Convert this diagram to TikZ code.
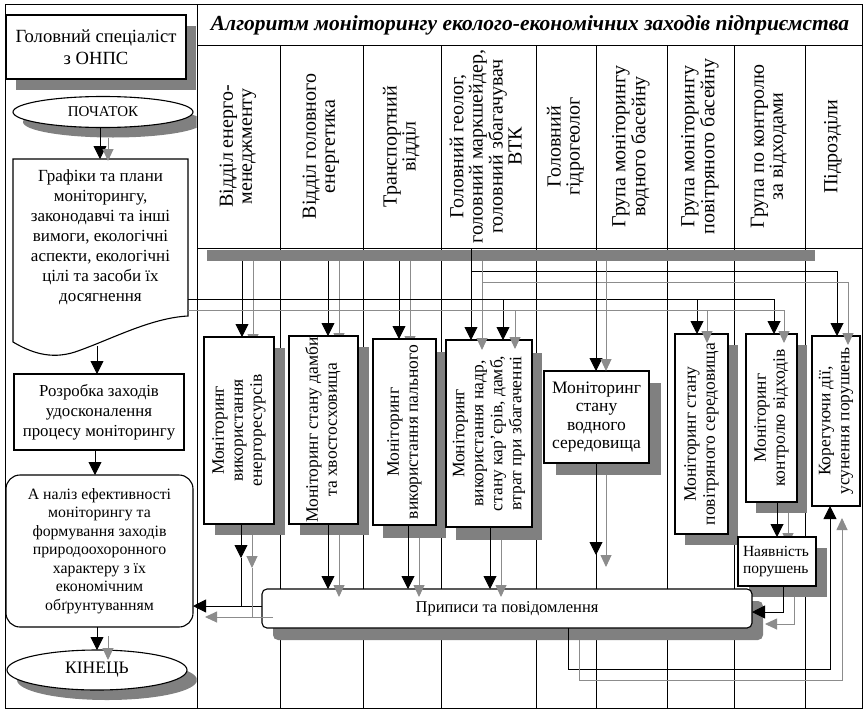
\documentclass[tikz,border=0pt]{standalone}
\usepackage{fontspec}
\setmainfont{Liberation Serif}
\usepackage{graphicx}
\usetikzlibrary{arrows.meta,shapes.geometric,shadows,calc}
\pgfdeclarelayer{under}
\pgfsetlayers{under,main}
\definecolor{shgray}{RGB}{128,128,128}
\definecolor{lngray}{RGB}{140,140,140}
% text set bottom-to-top inside an upright box
\newcommand{\vlines}[1]{\rotatebox{90}{\begin{tabular}{@{}c@{}}#1\end{tabular}}}

\begin{document}
\begin{tikzpicture}[x=1pt,y=-1pt,
  font=\fontsize{17.5}{19}\selectfont,
  every node/.style={inner sep=0pt, outer sep=0pt},
  rule/.style={draw, line width=1pt},
  box/.style={draw, line width=1.1pt, fill=white},
  hdr/.style={draw, line width=1pt, minimum height=203, font=\fontsize{20}{19}\selectfont},
  shd/.style 2 args={drop shadow={shadow xshift=#1, shadow yshift=-#2, opacity=1, fill=shgray}},
  blk/.style={draw=black, line width=0.9pt},
  gry/.style={draw=lngray, line width=0.9pt},
  tipb/.style={-{Triangle[length=13pt,width=13pt]}},
  tipg/.style={-{Triangle[length=12pt,width=11pt]}}
]
\useasboundingbox (0,0) rectangle (866,712);
\begin{pgfonlayer}{under}
  \fill[white] (0,0) rectangle (866,712);
\end{pgfonlayer}

% outer frame and title
\node[rule, minimum width=857, minimum height=704] (frame) at (433.5,356) {};
\node[font=\fontsize{21.5}{24}\selectfont\bfseries\itshape] (title) at (530,25)
  {Алгоритм моніторингу еколого-економічних заходів підприємства};

% column headers
\node[hdr, minimum width=83] (h1) at (238.5,146.5) {\vlines{Відділ енерго-\\менеджменту}};
\node[hdr, minimum width=83] (h2) at (321.5,146.5) {\vlines{Відділ головного\\енергетика}};
\node[hdr, minimum width=78] (h3) at (402,146.5) {\vlines{Транспортний\\відділ}};
\node[hdr, minimum width=95] (h4) at (488.5,146.5) {\vlines{Головний геолог,\\головний маркшейдер,\\головний збагачувач\\ВТК}};
\node[hdr, minimum width=60] (h5) at (566,146.5) {\vlines{Головний\\гідрогеолог}};
\node[hdr, minimum width=71] (h6) at (631.5,146.5) {\vlines{Група моніторингу\\водного басейну}};
\node[hdr, minimum width=67] (h7) at (700.5,146.5) {\vlines{Група моніторингу\\повітряного басейну}};
\node[hdr, minimum width=71] (h8) at (769.5,146.5) {\vlines{Група по контролю\\за відходами}};
\node[hdr, minimum width=57] (h9) at (833.5,146.5) {\vlines{Підрозділи}};

% left column separator
\draw[rule] (frame.north -| h1.west) -- (frame.south -| h1.west);

% column lines running down the body
\begin{pgfonlayer}{under}
  \foreach \h in {h2,h3,h4,h5,h6,h7,h8,h9}
    \draw[rule] (\h.south west) -- (\h.south west |- frame.south);
\end{pgfonlayer}

% shadow strip under the header row
\node[fill=shgray, minimum width=608, minimum height=11] (hbar) at (511,255.5) {};

% left column: process flow
\begin{scope}
  \clip (5,4) rectangle (196.5,708);
  \node[box, shd={10pt}{11pt}, minimum width=180, minimum height=64, align=center,
        font=\fontsize{18.6}{22}\selectfont] (spec) at (96,47) {Головний спеціаліст\\з ОНПС};
  \node[box, ellipse, shd={10pt}{10pt}, minimum width=180, minimum height=31,
        font=\fontsize{15}{17}\selectfont] (start) at (103,112) {ПОЧАТОК};
  \node[align=center, minimum width=175, minimum height=157, font=\fontsize{17}{20}\selectfont] (G1) at (100.5,237.5)
    {Графіки та плани\\моніторингу,\\законодавчі та інші\\вимоги, екологічні\\аспекти, екологічні\\цілі та засоби їх\\досягнення};
  \draw[line width=1.1pt] (G1.north west) -- (G1.north east) -- (G1.south east)
    .. controls ($(G1.south east)+(-38,2)$) and ($(G1.south east)+(-78,24)$) .. ($(G1.south west)+(62,36)$)
    .. controls ($(G1.south west)+(37,44)$) and ($(G1.south west)+(17,36)$) .. ($(G1.south west)+(0,26)$) -- cycle;
  \node[box, minimum width=170, minimum height=76, align=center, font=\fontsize{16.8}{20}\selectfont] (dev) at (99,412)
    {Розробка заходів\\удосконалення\\процесу моніторингу};
  \node[box, rounded corners=14pt, minimum width=187, minimum height=152, align=center,
        font=\fontsize{15.8}{18.5}\selectfont] (anl) at (99.5,551)
    {А наліз ефективності\\моніторингу та\\формування заходів\\природоохоронного\\характеру з їх\\економічним\\обґрунтуванням};
  \node[box, ellipse, shd={10pt}{10pt}, minimum width=180, minimum height=40] (end) at (97,670) {КІНЕЦЬ};
\end{scope}

% monitoring blocks
\node[box, shd={11pt}{11pt}, minimum width=70, minimum height=187] (A) at (239,430.5)
  {\vlines{Моніторинг\\використання\\енергоресурсів}};
\node[box, shd={11pt}{11pt}, minimum width=69, minimum height=188] (B) at (323.5,430)
  {\vlines{Моніторинг стану дамби\\та хвостосховища}};
\node[box, shd={10pt}{13pt}, minimum width=63, minimum height=186] (C) at (404.5,432)
  {\vlines{Моніторинг\\використання пального}};
\node[box, shd={10pt}{13pt}, minimum width=86, minimum height=187] (D) at (489,433.5)
  {\vlines{Моніторинг\\використання надр,\\стану кар’єрів, дамб,\\втрат при збагаченні}};
\node[box, shd={12pt}{12pt}, minimum width=105, minimum height=92, align=center,
      font=\fontsize{17.5}{18.5}\selectfont] (E) at (596.5,417)
  {Моніторинг\\стану\\водного\\середовища};
\node[box, shd={10pt}{11pt}, minimum width=53, minimum height=200] (F) at (701.5,434)
  {\vlines{Моніторинг стану\\повітряного середовища}};
\node[box, shd={10pt}{11pt}, minimum width=51, minimum height=168] (G) at (771.5,418)
  {\vlines{Моніторинг\\контролю відходів}};
\node[box, minimum width=48, minimum height=170] (H) at (836,421)
  {\vlines{Корегуючи дії,\\усунення порушень}};
\node[box, shd={11pt}{11pt}, minimum width=78, minimum height=49, align=left, text width=68,
      font=\fontsize{15.5}{17}\selectfont] (I) at (777,561.5) {Наявність\\порушень};
\node[box, rounded corners=5pt, shd={11pt}{12pt}, minimum width=490, minimum height=39,
      font=\fontsize{16.5}{19}\selectfont] (J) at (507,608.5)
  {Приписи та повідомлення};

% lanes of the connectors
\coordinate (xA) at (242,0);  \coordinate (xAg) at (253,0);
\coordinate (xB) at (328,0);  \coordinate (xBg) at (339,0);
\coordinate (xC) at (399,0);  \coordinate (xCg) at (410,0);
\coordinate (xD) at (471,0);  \coordinate (xDg) at (482,0);
\coordinate (xD2) at (503,0); \coordinate (xD2g) at (515,0);
\coordinate (xE) at (596,0);  \coordinate (xEg) at (606,0);
\coordinate (xF) at (697,0);  \coordinate (xFg) at (707,0);
\coordinate (xG) at (774,0);  \coordinate (xGg) at (784,0);
\coordinate (xH) at (837,0);  \coordinate (xHg) at (848,0);
\coordinate (yH1) at (0,271); \coordinate (yH1g) at (0,282);
\coordinate (yK) at (0,299);  \coordinate (yKg) at (0,310);
\coordinate (xA2) at (241,0); \coordinate (xA2g) at (252,0);
\coordinate (xC2) at (408,0); \coordinate (xC2g) at (419,0);
\coordinate (xD3) at (490,0); \coordinate (xD3g) at (501,0);
\coordinate (yM) at (0,558);  \coordinate (yMg) at (0,568);
\coordinate (yJ) at (0,606);  \coordinate (yJg) at (0,617);
\coordinate (yE) at (0,555);  \coordinate (yEg) at (0,567);
\coordinate (xI) at (777,0);  \coordinate (xIg) at (788,0);
\coordinate (xI2) at (783,0); \coordinate (xI2g) at (794,0);
\coordinate (yI) at (0,612);  \coordinate (yIg) at (0,624);
\coordinate (xJ) at (568,0);  \coordinate (xJg) at (579,0);
\coordinate (yB) at (0,669);  \coordinate (yBg) at (0,680);
\coordinate (xH2) at (830,0); \coordinate (xH2g) at (842,0);
\coordinate (xS) at (100,0);  \coordinate (xSg) at (108,0);
\coordinate (wv) at (97,346);
\coordinate (xR) at (95,0);
\coordinate (xK) at (97,0);   \coordinate (xKg) at (108,0);

% connectors lying under the blocks
\begin{pgfonlayer}{under}
  \draw[blk,tipb] (xA |- hbar.south) -- (xA |- A.north);
  \draw[gry,tipg] (xAg |- hbar.south) -- ($(xAg |- A.north)+(0,9)$);
  \draw[blk,tipb] (xB |- hbar.south) -- (xB |- B.north);
  \draw[gry,tipg] (xBg |- hbar.south) -- ($(xBg |- B.north)+(0,9)$);
  \draw[blk,tipb] (xC |- hbar.south) -- (xC |- C.north);
  \draw[gry,tipg] (xCg |- hbar.south) -- ($(xCg |- C.north)+(0,9)$);
  \draw[gry,tipg] ($(xIg |- G.south)+(0,11)$) -- ($(xIg |- I.north)+(0,8)$);
\end{pgfonlayer}

% from the chief geologist column
\draw[blk,tipb] (xD |- h4.south) -- (xD |- D.north);
\draw[blk,tipb] (xD |- yH1) -| (xH |- H.north);
\draw[gry,tipg] (xDg |- hbar.south) -- ($(xDg |- D.north)+(0,10)$);
\draw[gry,tipg] (xDg |- yH1g) -| ($(xHg |- H.north)+(0,9)$);

% from the plans and requirements
\draw[blk,tipb] (G1.east |- yK) -| (xG |- G.north);
\draw[blk,tipb] (xD2 |- yK) -- (xD2 |- D.north);
\draw[blk,tipb] (xF |- yK) -- (xF |- F.north);
\draw[gry,tipg] (G1.east |- yKg) -| ($(xGg |- G.north)+(0,9)$);
\draw[gry,tipg] (xD2g |- yKg) -- ($(xD2g |- D.north)+(0,9)$);
\draw[gry,tipg] (xFg |- yKg) -- ($(xFg |- F.north)+(0,9)$);

% water monitoring
\draw[blk,tipb] (xE |- hbar.south) -- (xE |- E.north);
\draw[gry,tipg] (xEg |- hbar.south) -- (xEg |- E.north);
\draw[blk,tipb] (xE |- E.south) -- (xE |- yE);
\draw[gry,tipg] ($(xEg |- E.south)+(0,12)$) -- (xEg |- yEg);

% energy block down to the analysis
\draw[blk,tipb] (xA2 |- A.south) -- (xA2 |- yM);
\draw[blk] (xA2 |- yM) -- (xA2 |- yJ);
\draw[blk,tipb] (J.west |- yJ) -- (anl.east |- yJ);
\draw[gry,tipg] ($(xA2g |- A.south)+(0,11)$) -- (xA2g |- yMg);
\draw[gry] (xA2g |- yMg) -- (xA2g |- yJg);
\draw[gry,tipg] ($(J.west |- yJg)+(11,0)$) -- ($(anl.east |- yJg)+(12,0)$);

% blocks into the orders box
\draw[blk,tipb] (xB |- B.south) -- (xB |- J.north);
\draw[gry,tipg] ($(xBg |- B.south)+(0,11)$) -- ($(xBg |- J.north)+(0,8)$);
\draw[blk,tipb] (xC2 |- C.south) -- (xC2 |- J.north);
\draw[gry,tipg] ($(xC2g |- C.south)+(0,13)$) -- ($(xC2g |- J.north)+(0,8)$);
\draw[blk,tipb] (xD3 |- D.south) -- (xD3 |- J.north);
\draw[gry,tipg] ($(xD3g |- D.south)+(0,13)$) -- ($(xD3g |- J.north)+(0,8)$);

% waste control, violations, corrective actions
\draw[blk,tipb] (xI |- G.south) -- (xI |- I.north);
\draw[blk,tipb] (xI2 |- I.south) |- (J.east |- yI);
\draw[gry,tipg] ($(xI2g |- I.south)+(0,11)$) |- ($(J.east |- yIg)+(13,0)$);
\draw[blk,tipb] (xJ |- J.south) -- (xJ |- yB) -| (xH2 |- H.south);
\draw[gry,tipg] ($(xJg |- J.south)+(0,12)$) -- (xJg |- yBg) -| ($(xH2g |- H.south)+(0,12)$);

% left column flow
\draw[blk,tipb] (xS |- start.south) -- (xS |- G1.north);
\draw[gry,tipg] ($(xSg |- start.south)+(0,10)$) -- ($(xSg |- G1.north)+(0,2)$);
\draw[blk,tipb] (wv) -- (wv |- dev.north);
\draw[blk,tipb] (xR |- dev.south) -- (xR |- anl.north);
\draw[blk,tipb] (xK |- anl.south) -- (xK |- end.north);
\draw[gry,tipg] ($(xKg |- anl.south)+(0,9)$) -- ($(xKg |- end.north)+(0,10)$);
\end{tikzpicture}
\end{document}
